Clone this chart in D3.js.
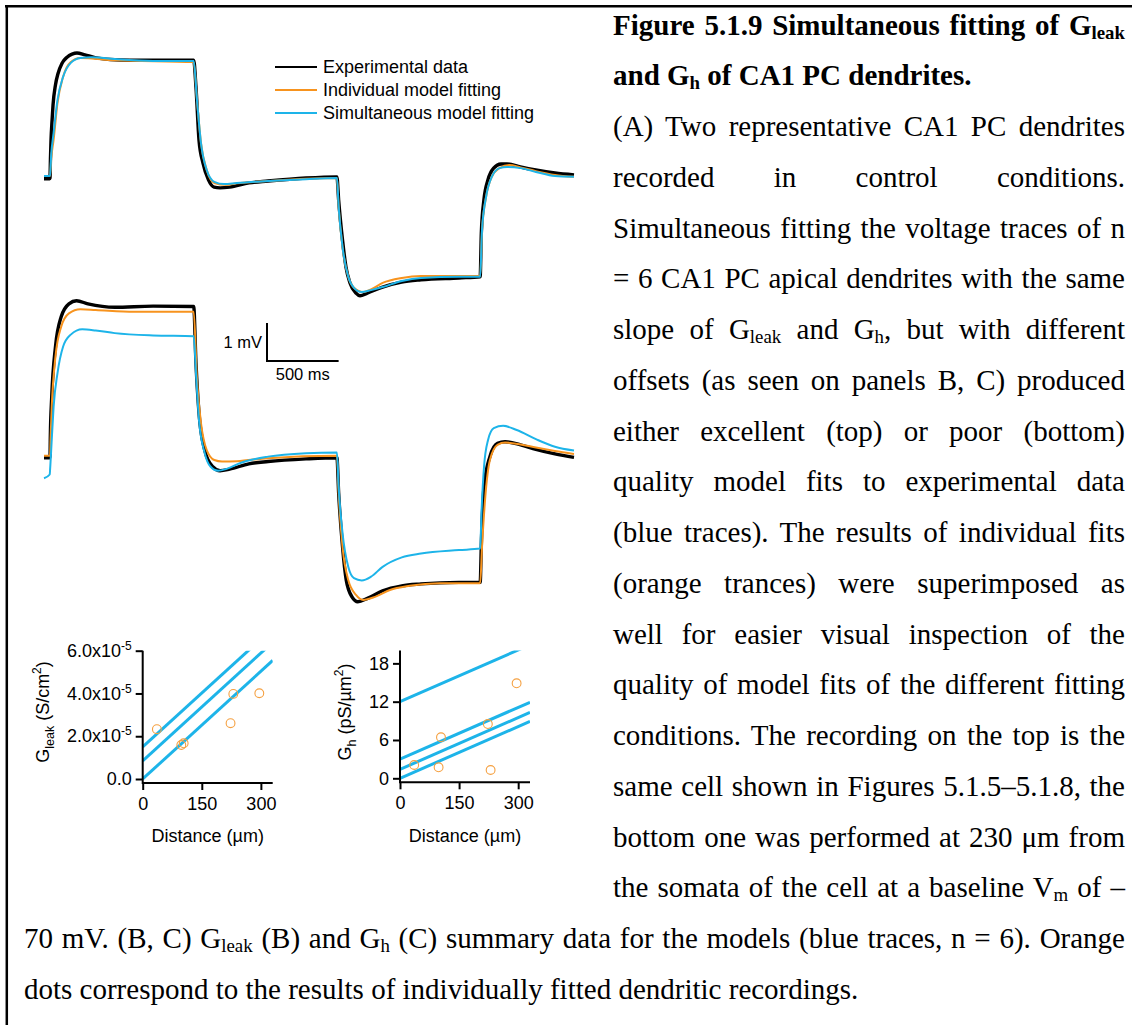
<!DOCTYPE html>
<html>
<head>
<meta charset="utf-8">
<script src="https://cdn.jsdelivr.net/npm/d3@7.9.0/dist/d3.min.js"></script>
<style>
  html, body { margin: 0; padding: 0; background: #fff; }
  #wrap { position: relative; width: 1132px; height: 1025px; overflow: hidden; }
  #fig { position: absolute; left: 0; top: 0; }
  .cap { position: absolute; font-family: "Liberation Serif", "Times New Roman", serif; font-size: 29px; line-height: 29px; white-space: nowrap; color: #000; }
  .just { text-align: justify; text-align-last: justify; }
  .cap sub { font-size: 0.65em; vertical-align: -0.22em; line-height: 0; }
</style>
</head>
<body>
<div id="wrap"><svg id="fig" width="1132" height="1025"></svg></div>
<script>
// ---- data: voltage traces, [time (ms), voltage (mV, relative to baseline)] ----
const topExperimental = [[0,-0.02],[40,-0.02],[42,0],[45,0.5],[49,1.0],[56,1.5],[63,1.92],[80,2.45],[98,2.75],[126,3.02],[161,3.18],[196,3.26],[230,3.29],[286,3.24],[356,3.17],[461,3.12],[600,3.1],[810,3.1],[1045,3.1],[1061,2.39],[1082,1.0],[1110,0.39],[1148,-0.05],[1187,-0.24],[1229,-0.26],[1296,-0.24],[1431,-0.13],[1564,-0.08],[1829,0],[2045,0.03],[2057,-0.58],[2084,-1.63],[2108,-2.34],[2136,-2.76],[2178,-3.03],[2206,-3.1],[2257,-3.03],[2364,-2.87],[2497,-2.74],[2631,-2.68],[2897,-2.63],[3045,-2.6],[3053,-1.45],[3071,-0.58],[3099,-0.05],[3139,0.26],[3190,0.37],[3232,0.37],[3326,0.29],[3433,0.21],[3567,0.13],[3700,0.08]];
const topIndividual = [[0,0.05],[42,0.05],[50,0.5],[67,1.0],[94,1.97],[133,2.66],[187,3.05],[254,3.16],[494,3.1],[1045,3.05],[1068,2.05],[1096,0.92],[1136,0.21],[1189,-0.13],[1269,-0.18],[1347,-0.14],[1564,-0.08],[1829,-0.02],[2045,0],[2057,-0.76],[2084,-1.82],[2124,-2.6],[2164,-2.89],[2228,-3.0],[2283,-2.93],[2364,-2.76],[2498,-2.63],[2632,-2.58],[3045,-2.58],[3058,-1.37],[3086,-0.5],[3126,0.03],[3180,0.26],[3247,0.34],[3327,0.28],[3434,0.18],[3567,0.08],[3700,0.03]];
const topSimultaneous = [[0,0.05],[42,0.05],[50,0.6],[67,1.18],[94,2.05],[133,2.66],[187,3.03],[254,3.16],[334,3.18],[494,3.13],[761,3.08],[1045,3.08],[1068,2.05],[1096,0.92],[1136,0.21],[1189,-0.1],[1257,-0.16],[1347,-0.13],[1564,-0.08],[1829,-0.03],[2045,0],[2057,-0.76],[2084,-1.82],[2124,-2.6],[2164,-2.89],[2218,-3.0],[2283,-2.95],[2364,-2.87],[2498,-2.71],[2632,-2.63],[2897,-2.6],[3045,-2.6],[3058,-1.37],[3086,-0.5],[3126,0.03],[3180,0.26],[3233,0.29],[3327,0.26],[3434,0.16],[3567,0.05],[3700,0.03]];

const bottomExperimental = [[0,-0.02],[42,-0.02],[44,0.5],[54,1.59],[80,2.9],[120,3.69],[174,4.03],[227,4.11],[307,4.03],[494,3.94],[761,3.97],[1045,3.96],[1061,2.47],[1082,1.16],[1122,0.18],[1176,-0.25],[1229,-0.36],[1296,-0.32],[1430,-0.18],[1564,-0.12],[1829,-0.05],[2045,-0.02],[2057,-0.95],[2084,-2.36],[2110,-3.24],[2150,-3.68],[2191,-3.81],[2258,-3.72],[2364,-3.52],[2498,-3.39],[2632,-3.34],[2897,-3.3],[3045,-3.3],[3054,-2.18],[3072,-0.78],[3113,0.01],[3166,0.36],[3219,0.4],[3327,0.32],[3434,0.2],[3567,0.08],[3700,-0.01]];
const bottomIndividual = [[0,0.03],[42,0.03],[46,0.5],[54,1.32],[80,2.64],[120,3.43],[174,3.78],[254,3.89],[361,3.87],[628,3.82],[1045,3.82],[1068,2.03],[1096,0.89],[1136,0.18],[1189,-0.08],[1243,-0.12],[1347,-0.11],[1564,-0.03],[2045,0.03],[2057,-0.95],[2084,-2.36],[2124,-3.24],[2178,-3.63],[2228,-3.76],[2311,-3.68],[2415,-3.5],[2552,-3.39],[2764,-3.32],[3045,-3.32],[3058,-2.36],[3081,-1.04],[3113,-0.08],[3166,0.32],[3219,0.38],[3327,0.33],[3434,0.25],[3567,0.16],[3700,0.08]];
const bottomSimultaneous = [[0,-0.56],[40,-0.46],[43,-0.3],[54,0.45],[67,1.32],[94,2.2],[133,2.9],[187,3.22],[267,3.36],[361,3.33],[494,3.26],[761,3.2],[1045,3.18],[1061,2.2],[1082,0.97],[1122,0.1],[1162,-0.25],[1215,-0.36],[1269,-0.32],[1375,-0.15],[1564,0.01],[1829,0.1],[2045,0.12],[2057,-0.78],[2084,-2.0],[2124,-2.89],[2164,-3.19],[2218,-3.25],[2283,-3.15],[2364,-2.89],[2498,-2.64],[2632,-2.54],[2897,-2.45],[3045,-2.41],[3054,-1.48],[3072,-0.25],[3100,0.45],[3140,0.76],[3205,0.82],[3300,0.71],[3434,0.47],[3567,0.27],[3700,0.17]];

const legendLabels = ['Experimental data', 'Individual model fitting', 'Simultaneous model fitting'];
const scaleBarMV = 1;
const scaleBarMs = 500;

// ---- data: summary panels ----
const distances = [36, 98, 104, 223, 230, 296];          // µm
const gleakIndividual = [2.33e-5, 1.59e-5, 1.67e-5, 2.61e-5, 3.98e-5, 4.01e-5];
const ghIndividual = [2.08, 1.72, 6.42, 8.5, 1.3, 14.88];
const gleakSlope = 1.68e-7;
const gleakOffsets = [1.5e-5, 0.85e-5, 0];
const ghSlope = 0.027;
const ghOffsets = [12, 3, 1.4, 0];
const distanceTicks = [0, 150, 300];
const gleakTicks = [0, 2e-5, 4e-5, 6e-5];
const ghTicks = [0, 6, 12, 18];

const BLACK = '#000', ORANGE = '#f7931e', CYAN = '#1db4e9', DOT = '#f5a040';
const SANS = '"Liberation Sans", Arial, sans-serif';

const svg = d3.select('#fig');

// frame (top and left edges only)
svg.append('path').attr('d', 'M5,6.3H1132M6.8,5V1025')
  .attr('fill', 'none').attr('stroke', '#000').attr('stroke-width', 2.5);

// ---- panel A: traces ----
const x = d3.scaleLinear().domain([0, 3700]).range([44, 574]);
const yTop = d3.scaleLinear().domain([0, 1]).range([178, 140]);
const yBot = d3.scaleLinear().domain([0, 1]).range([457, 419]);

function drawTraces(series, y) {
  const line = d3.line().x(d => x(d[0])).y(d => y(d[1])).curve(d3.curveMonotoneX);
  const styles = [[BLACK, 3.4], [ORANGE, 2], [CYAN, 2]];
  series.forEach((s, i) => {
    svg.append('path').attr('d', line(s))
      .attr('fill', 'none').attr('stroke', styles[i][0])
      .attr('stroke-width', styles[i][1]).attr('stroke-linejoin', 'round');
  });
}
drawTraces([topExperimental, topIndividual, topSimultaneous], yTop);
drawTraces([bottomExperimental, bottomIndividual, bottomSimultaneous], yBot);

// legend
const legend = svg.append('g').attr('font-family', SANS).attr('font-size', 18);
legendLabels.forEach((label, i) => {
  const ly = 67 + i * 23;
  legend.append('line').attr('x1', 275).attr('x2', 317).attr('y1', ly).attr('y2', ly)
    .attr('stroke', [BLACK, ORANGE, CYAN][i]).attr('stroke-width', 2);
  legend.append('text').attr('x', 323).attr('y', ly + 6.3).text(label);
});

// scale bar
const barX = 267, barY = 361;
const barH = yTop(0) - yTop(scaleBarMV);
const barW = x(scaleBarMs) - x(0);
svg.append('path').attr('d', `M${barX},${barY - barH}V${barY}H${barX + barW}`)
  .attr('fill', 'none').attr('stroke', '#000').attr('stroke-width', 2);
svg.append('text').attr('x', barX - 5).attr('y', barY - barH / 2 + 5.5)
  .attr('text-anchor', 'end').attr('font-family', SANS).attr('font-size', 16.5)
  .text(`${scaleBarMV} mV`);
svg.append('text').attr('x', barX + barW / 2).attr('y', barY + 18.5)
  .attr('text-anchor', 'middle').attr('font-family', SANS).attr('font-size', 16.5)
  .text(`${scaleBarMs} ms`);

// ---- panels B, C: summary fits ----
function drawFit(cfg) {
  const g = svg.append('g').attr('font-family', SANS);
  const xs = d3.scaleLinear().domain([0, 330]).range([cfg.left, cfg.left + 130]);
  const ys = d3.scaleLinear().domain(cfg.yDomain).range([cfg.zeroY, cfg.topY]);
  const axisY = cfg.zeroY + 4;

  const clipId = 'clip-' + cfg.id;
  svg.append('clipPath').attr('id', clipId).append('rect')
    .attr('x', xs(0)).attr('y', ys(cfg.yDomain[1]))
    .attr('width', xs(330) - xs(0)).attr('height', axisY - ys(cfg.yDomain[1]));

  g.append('g').attr('clip-path', `url(#${clipId})`)
    .selectAll('line').data(cfg.offsets).join('line')
    .attr('x1', xs(0)).attr('y1', d => ys(d))
    .attr('x2', xs(330)).attr('y2', d => ys(d + cfg.slope * 330))
    .attr('stroke', CYAN).attr('stroke-width', 3);

  g.selectAll('circle').data(distances.map((d, i) => [d, cfg.values[i]])).join('circle')
    .attr('cx', d => xs(d[0])).attr('cy', d => ys(d[1])).attr('r', 4.4)
    .attr('fill', 'none').attr('stroke', DOT).attr('stroke-width', 1.1);

  // axis lines
  g.append('path').attr('d', `M${xs(0)},${ys(cfg.yDomain[1])}V${axisY}H${xs(330)}`)
    .attr('fill', 'none').attr('stroke', '#000').attr('stroke-width', 2);

  const ya = g.append('g').attr('transform', `translate(${xs(0)},0)`)
    .call(d3.axisLeft(ys).tickValues(cfg.ticks).tickSize(7).tickPadding(4).tickFormat(cfg.fmt));
  const xa = g.append('g').attr('transform', `translate(0,${axisY})`)
    .call(d3.axisBottom(xs).tickValues(distanceTicks).tickSize(7).tickPadding(7).tickFormat(d3.format('d')));
  [ya, xa].forEach(a => {
    a.select('.domain').remove();
    a.attr('font-family', SANS).attr('font-size', 18);
    a.selectAll('.tick line').attr('stroke-width', 2);
  });
  if (cfg.sup) {
    ya.selectAll('.tick text').each(function (d) {
      if (d !== 0) d3.select(this).append('tspan').attr('dy', -7).attr('font-size', 12).text(cfg.sup);
    });
  }

  g.append('text').attr('x', (xs(0) + xs(330)) / 2).attr('y', 842)
    .attr('text-anchor', 'middle').attr('font-size', 18).text('Distance (\u00b5m)');

  const yl = g.append('text').attr('transform', `translate(${cfg.labelX},712) rotate(-90)`)
    .attr('text-anchor', 'middle').attr('font-size', 18);
  yl.append('tspan').text('G');
  yl.append('tspan').attr('dy', 5).attr('font-size', 12.5).text(cfg.sub);
  yl.append('tspan').attr('dy', -5).text(' (' + cfg.unit);
  yl.append('tspan').attr('dy', -8).attr('font-size', 12).text('2');
  yl.append('tspan').attr('dy', 8).text(')');
}

drawFit({
  id: 'gleak', left: 142.7, zeroY: 779, topY: 650.7, yDomain: [0, 6e-5],
  values: gleakIndividual, slope: gleakSlope, offsets: gleakOffsets, ticks: gleakTicks,
  fmt: d => d === 0 ? '0.0' : (d / 1e-5).toFixed(1) + 'x10', sup: '-5',
  labelX: 48.5, sub: 'leak', unit: 'S/cm'
});
drawFit({
  id: 'gh', left: 400, zeroY: 778.3, topY: 650.6, yDomain: [0, 20],
  values: ghIndividual, slope: ghSlope, offsets: ghOffsets, ticks: ghTicks,
  fmt: d3.format('d'), sup: null,
  labelX: 351, sub: 'h', unit: 'pS/\u00b5m'
});

// ---- caption ----
const captionRight = [
  ['<b>Figure 5.1.9 Simultaneous fitting of G<sub>leak</sub></b>', true],
  ['<b>and G<sub>h</sub> of CA1 PC dendrites.</b>', false],
  ['(A) Two representative CA1 PC dendrites', true],
  ['recorded in control conditions.', true],
  ['Simultaneous fitting the voltage traces of n', true],
  ['= 6 CA1 PC apical dendrites with the same', true],
  ['slope of G<sub>leak</sub> and G<sub>h</sub>, but with different', true],
  ['offsets (as seen on panels B, C) produced', true],
  ['either excellent (top) or poor (bottom)', true],
  ['quality model fits to experimental data', true],
  ['(blue traces). The results of individual fits', true],
  ['(orange trances) were superimposed as', true],
  ['well for easier visual inspection of the', true],
  ['quality of model fits of the different fitting', true],
  ['conditions. The recording on the top is the', true],
  ['same cell shown in Figures 5.1.5\u20135.1.8, the', true],
  ['bottom one was performed at 230 \u03bcm from', true],
  ['the somata of the cell at a baseline V<sub>m</sub> of \u2013', true]
];
const captionFull = [
  ['70 mV. (B, C) G<sub>leak</sub> (B) and G<sub>h</sub> (C) summary data for the models (blue traces, n = 6). Orange', true],
  ['dots correspond to the results of individually fitted dendritic recordings.', false]
];
const wrap = d3.select('#wrap');
const firstBaseline = 35, pitch = 50.75, ascent = 0.8375 * 29;
captionRight.concat(captionFull).forEach((l, i) => {
  const full = i >= captionRight.length;
  wrap.append('div')
    .attr('class', 'cap' + (l[1] ? ' just' : ''))
    .style('left', (full ? 24 : 613) + 'px')
    .style('width', (full ? 1101 : 512) + 'px')
    .style('top', (firstBaseline + pitch * i - ascent) + 'px')
    .html(l[0]);
});
</script>
</body>
</html>
